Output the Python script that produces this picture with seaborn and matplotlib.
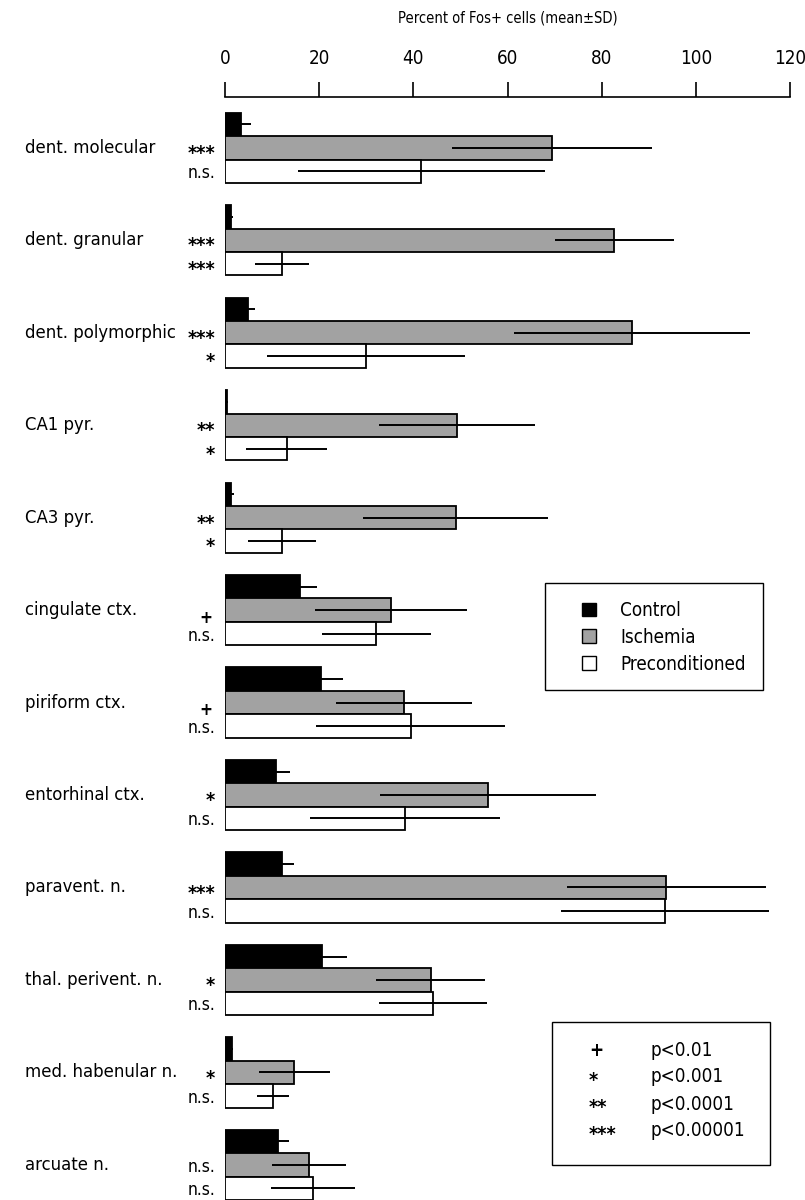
import matplotlib
matplotlib.use('Agg')
import matplotlib.pyplot as plt
import matplotlib.transforms as mtransforms
from matplotlib.patches import Rectangle
import pandas as pd
import seaborn as sns

regions = ['dent. molecular', 'dent. granular', 'dent. polymorphic', 'CA1 pyr.', 'CA3 pyr.',
           'cingulate ctx.', 'piriform ctx.', 'entorhinal ctx.', 'paravent. n.',
           'thal. perivent. n.', 'med. habenular n.', 'arcuate n.']
groups = ['Control', 'Ischemia', 'Preconditioned']

control_mean = [3.4, 1.3, 4.9, 0.5, 1.2, 16.0, 20.3, 10.9, 12.0, 20.6, 1.4, 11.2]
control_sd = [2.1, 0.3, 1.4, 0.2, 0.8, 3.6, 4.7, 3.0, 2.6, 5.3, 0.3, 2.4]
ischemia_mean = [69.5, 82.7, 86.4, 49.3, 49.0, 35.3, 38.0, 55.9, 93.7, 43.7, 14.7, 17.8]
ischemia_sd = [21.2, 12.6, 25.1, 16.6, 19.6, 16.2, 14.4, 22.9, 21.1, 11.6, 7.5, 7.9]
precond_mean = [41.7, 12.1, 29.9, 13.1, 12.1, 32.1, 39.4, 38.3, 93.4, 44.2, 10.1, 18.7]
precond_sd = [26.2, 5.7, 21.0, 8.6, 7.3, 11.6, 20.0, 20.2, 22.1, 11.5, 3.4, 9.0]

ischemia_sig = ['***', '***', '***', '**', '**', '+', '+', '*', '***', '*', '*', 'n.s.']
precond_sig = ['n.s.', '***', '*', '*', '*', 'n.s.', 'n.s.', 'n.s.', 'n.s.', 'n.s.', 'n.s.', 'n.s.']

sig_symbols = ['+', '*', '**', '***']
sig_levels = ['p<0.01', 'p<0.001', 'p<0.0001', 'p<0.00001']

sns.set_style('white')
plt.rcParams['font.family'] = ['DejaVu Sans']
plt.rcParams['font.stretch'] = 'condensed'
plt.rcParams['text.color'] = 'black'
plt.rcParams['axes.labelcolor'] = 'black'
plt.rcParams['xtick.color'] = 'black'

df = pd.DataFrame({
    'region': regions * 3,
    'group': [g for g in groups for _ in regions],
    'value': control_mean + ischemia_mean + precond_mean,
})
sds = [control_sd, ischemia_sd, precond_sd]
sigs = [None, ischemia_sig, precond_sig]

fig = plt.figure(figsize=(8.05, 12), dpi=100)
ax = fig.add_axes([225 / 805, 0, 565 / 805, 1 - 97 / 1200])

palette = {'Control': 'black', 'Ischemia': '#a2a2a2', 'Preconditioned': 'white'}
sns.barplot(data=df, x='value', y='region', hue='group', order=regions, hue_order=groups,
            palette=palette, orient='h', width=0.76, errorbar=None,
            edgecolor='black', linewidth=1.3, ax=ax, saturation=1)


def sig_mark(s, y):
    # asterisks sit high in the font, so pull them down to the bar centre
    if '*' in s:
        ax.annotate(s, xy=(0, y), xycoords=('axes fraction', 'data'), xytext=(-7, -8),
                    textcoords='offset points', ha='right', va='baseline', fontsize=14,
                    fontweight='bold')
    elif s == '+':
        ax.annotate(s, xy=(0, y), xycoords=('axes fraction', 'data'), xytext=(-9, -4),
                    textcoords='offset points', ha='right', va='center_baseline', fontsize=12.5,
                    fontweight='bold')
    else:
        ax.annotate(s, xy=(0, y), xycoords=('axes fraction', 'data'), xytext=(-7, 0),
                    textcoords='offset points', ha='right', va='center_baseline', fontsize=12.5)


# error bars (mean +/- SD) and significance marks
bar_sets = list(ax.containers)[:3]
for i, cont in enumerate(bar_sets):
    ys = [b.get_y() + b.get_height() / 2 for b in cont]
    xs = [b.get_width() for b in cont]
    ax.errorbar(xs, ys, xerr=sds[i], fmt='none', ecolor='black', elinewidth=1.4, capsize=0)
    if sigs[i] is not None:
        for y, s in zip(ys, sigs[i]):
            sig_mark(s, y)

# category labels on the left
tr = mtransforms.blended_transform_factory(fig.transFigure, ax.transData)
for k, name in enumerate(regions):
    ax.text(25 / 805, k, name, transform=tr, ha='left', va='center', fontsize=13.2)

ax.set_xlim(0, 120)
ax.set_ylim(11.38, -0.55)
ax.set_yticks([])
ax.set_ylabel('')
ax.xaxis.tick_top()
ax.xaxis.set_label_position('top')
ax.set_xticks(range(0, 121, 20))
ax.tick_params(axis='x', direction='out', length=11, width=1.2, pad=10, labelsize=13.5)
ax.set_xlabel('Percent of Fos+ cells (mean±SD)', fontsize=10.5, labelpad=19)
for side in ['left', 'right', 'bottom']:
    ax.spines[side].set_visible(False)
ax.spines['top'].set_linewidth(1.2)
ax.spines['top'].set_color('black')

# group legend, frame drawn separately
leg = ax.legend(loc='upper left', bbox_to_anchor=(582 / 805, 1 - 601 / 1200),
                bbox_transform=fig.transFigure, fontsize=13.5, frameon=False,
                handlelength=0.75, handleheight=0.75, handletextpad=1.3, borderpad=0,
                labelspacing=0.42, borderaxespad=0)
for h in leg.legend_handles:
    h.set_edgecolor('black')
    h.set_linewidth(1.0)
fig.patches.append(Rectangle((545 / 805, 1 - 690 / 1200), 218 / 805, 107 / 1200,
                             transform=fig.transFigure, fill=False, edgecolor='black',
                             linewidth=1.0))

# significance key
fig.patches.append(Rectangle((552 / 805, 1 - 1165 / 1200), 218 / 805, 143 / 1200,
                             transform=fig.transFigure, fill=False, edgecolor='black',
                             linewidth=1.0))
for j, (sym, lev) in enumerate(zip(sig_symbols, sig_levels)):
    yy = 1 - (1048 + 27 * j) / 1200
    if '*' in sym:
        fig.text(589 / 805, yy - 11 / 1200, sym, ha='left', va='baseline',
                 fontsize=14, fontweight='bold')
    else:
        fig.text(589 / 805, yy, sym, ha='left', va='center_baseline', fontsize=13.5,
                 fontweight='bold')
    fig.text(650 / 805, yy, lev, ha='left', va='center_baseline', fontsize=13.5)

fig.savefig('out.png', dpi=100)
